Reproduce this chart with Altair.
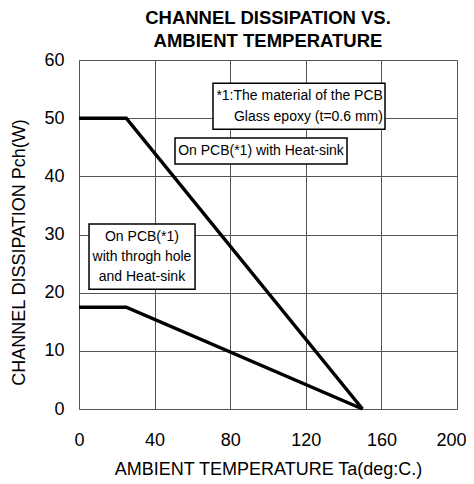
import altair as alt
import pandas as pd

# Curves: ambient temperature (deg C) vs channel dissipation (W)
ta_heat = [0, 25, 150]
pch_heat = [50, 50, 0]
ta_hole = [0, 25, 150]
pch_hole = [17.5, 17.5, 0]

# Annotation boxes (data units): x, x2, y, y2
box_x = [70.9, 50.8, 5.3]
box_x2 = [161.9, 141.8, 61.4]
box_y = [56.0, 46.6, 31.8]
box_y2 = [48.1, 42.1, 20.6]

# Right-aligned note lines
note_text = ["*1:The material of the PCB", "Glass epoxy (t=0.6 mm)"]
note_x = [160.8, 160.8]
note_y = [53.8, 50.2]

# Centered label lines
lab_text = ["On PCB(*1) with Heat-sink", "On PCB(*1)", "with throgh hole", "and Heat-sink"]
lab_x = [96.3, 33.3, 33.3, 33.3]
lab_y = [44.3, 29.55, 26.1, 22.7]

FONT = "Liberation Sans"

lines_df = pd.DataFrame({
    "ta": ta_heat + ta_hole,
    "pch": pch_heat + pch_hole,
    "series": ["heat"] * len(ta_heat) + ["hole"] * len(ta_hole),
})
box_df = pd.DataFrame({"x": box_x, "x2": box_x2, "y": box_y, "y2": box_y2})
note_df = pd.DataFrame({"t": note_text, "x": note_x, "y": note_y})
lab_df = pd.DataFrame({"t": lab_text, "x": lab_x, "y": lab_y})

xscale = alt.Scale(domain=[0, 200], nice=False, zero=False)
yscale = alt.Scale(domain=[0, 60], nice=False, zero=False)

xaxis = alt.Axis(
    values=list(range(0, 201, 20)),
    labelExpr="datum.value % 40 == 0 ? datum.label : ''",
    labelOffset={"condition": {"test": "datum.value == 200", "value": -6}, "value": 0},
    ticks=False, tickSize=0, domain=False, labelFlush=False,
    grid=True, gridColor="#555555", gridWidth=1,
    labelFont=FONT, labelFontSize=18, labelColor="black",
    labelBaseline="alphabetic", labelPadding=36,
    title="AMBIENT TEMPERATURE Ta(deg:C.)",
    titleFont=FONT, titleFontSize=18, titleFontWeight="normal", titleColor="black",
    titleBaseline="alphabetic", titleY=65, titleX=189, titleAlign="center",
)
yaxis = alt.Axis(
    values=list(range(0, 61, 10)),
    ticks=False, tickSize=0, domain=False, labelFlush=False,
    grid=True, gridColor="#555555", gridWidth=1,
    labelFont=FONT, labelFontSize=18, labelColor="black", labelPadding=15,
    title="CHANNEL DISSIPATION Pch(W)",
    titleFont=FONT, titleFontSize=18, titleFontWeight="normal", titleColor="black",
    titleAngle=-90, titleAlign="center", titleBaseline="middle",
    titleX=-60, titleY=192,
)

lines = alt.Chart(lines_df).mark_line(color="black", strokeWidth=3.5, strokeJoin="miter").encode(
    x=alt.X("ta:Q", scale=xscale, axis=xaxis),
    y=alt.Y("pch:Q", scale=yscale, axis=yaxis),
    detail="series:N",
)

boxes = alt.Chart(box_df).mark_rect(fill="white", stroke="black", strokeWidth=1.5).encode(
    x=alt.X("x:Q", scale=xscale), x2="x2:Q",
    y=alt.Y("y:Q", scale=yscale), y2="y2:Q",
)

notes = alt.Chart(note_df).mark_text(font=FONT, fontSize=14, align="right", baseline="middle", color="black").encode(
    x=alt.X("x:Q", scale=xscale), y=alt.Y("y:Q", scale=yscale), text="t:N",
)

labs = alt.Chart(lab_df).mark_text(font=FONT, fontSize=14, align="center", baseline="middle", color="black").encode(
    x=alt.X("x:Q", scale=xscale), y=alt.Y("y:Q", scale=yscale), text="t:N",
)

chart = alt.layer(lines, boxes, notes, labs).properties(
    width=378, height=349,
    title=alt.TitleParams(
        text=["CHANNEL DISSIPATION VS.", "AMBIENT TEMPERATURE"],
        font=FONT, fontSize=18.5, fontWeight="bold", color="black",
        anchor="middle", frame="group", lineHeight=23, offset=1,
    ),
    autosize=alt.AutoSizeParams(type="none"),
    padding={"left": 71, "top": 52, "right": 9, "bottom": 70},
).configure_view(stroke="black", strokeWidth=1.5).configure(background="white")

chart.save("out.html", embed_options={"renderer": "svg", "actions": False})
